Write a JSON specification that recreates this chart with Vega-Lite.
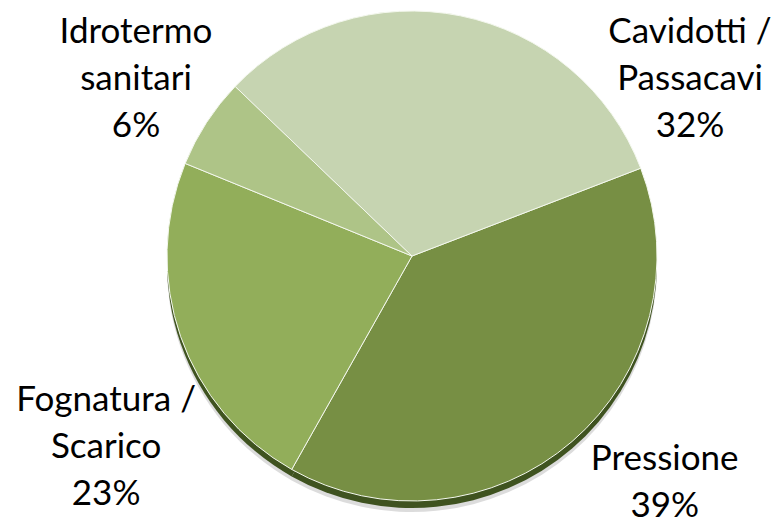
{
  "$schema": "https://vega.github.io/schema/vega-lite/v6.json",
  "width": 728,
  "height": 512,
  "autosize": {"type": "none"},
  "padding": {"left": 48, "right": 0, "top": 0, "bottom": 7},
  "background": "white",
  "config": {"view": {"stroke": null}},
  "data": {
    "values": [
      {"category": "Pressione", "label": "Pressione", "value": 39, "order": 1},
      {"category": "Fognatura / Scarico", "label": "Fognatura /\nScarico", "value": 23, "order": 2},
      {"category": "Idrotermo sanitari", "label": "Idrotermo\nsanitari", "value": 6, "order": 3},
      {"category": "Cavidotti / Passacavi", "label": "Cavidotti /\nPassacavi", "value": 32, "order": 4}
    ]
  },
  "transform": [
    {"stack": "value", "groupby": [], "sort": [{"field": "order"}], "as": ["s0", "s1"]},
    {"calculate": "datum.label + '\\n' + datum.value + '%'", "as": "text"}
  ],
  "layer": [
    {
      "mark": {"type": "arc", "radius": 245, "yOffset": 11, "color": "#9a9a9a", "opacity": 0.35},
      "encoding": {
        "theta": {"field": "s0", "type": "quantitative", "scale": {"domain": [0, 100], "range": [1.2043, 7.4875]}},
        "theta2": {"field": "s1"}
      }
    },
    {
      "mark": {"type": "arc", "radius": 245, "yOffset": 7, "color": "#3f5320"},
      "encoding": {
        "theta": {"field": "s0", "type": "quantitative"},
        "theta2": {"field": "s1"}
      }
    },
    {
      "mark": {"type": "arc", "radius": 245, "stroke": "#f4f8ee", "strokeWidth": 1},
      "encoding": {
        "theta": {"field": "s0", "type": "quantitative"},
        "theta2": {"field": "s1"},
        "color": {
          "field": "category",
          "type": "nominal",
          "scale": {
            "domain": ["Pressione", "Fognatura / Scarico", "Idrotermo sanitari", "Cavidotti / Passacavi"],
            "range": ["#778f44", "#92ae5a", "#aec487", "#c6d4b1"]
          },
          "legend": null
        }
      }
    },
    {
      "transform": [{"filter": "datum.category == 'Pressione'"}],
      "mark": {"type": "text", "radius": 324, "thetaOffset": 1.0427, "font": "Lato", "fontSize": 35, "lineHeight": 47, "lineBreak": "\n", "align": "center", "baseline": "middle", "color": "black"},
      "encoding": {"theta": {"field": "s0", "type": "quantitative"}, "text": {"field": "text"}}
    },
    {
      "transform": [{"filter": "datum.category == 'Fognatura / Scarico'"}],
      "mark": {"type": "text", "radius": 338, "thetaOffset": 0.618, "font": "Lato", "fontSize": 35, "lineHeight": 47, "lineBreak": "\n", "align": "center", "baseline": "middle", "color": "black"},
      "encoding": {"theta": {"field": "s0", "type": "quantitative"}, "text": {"field": "text"}}
    },
    {
      "transform": [{"filter": "datum.category == 'Idrotermo sanitari'"}],
      "mark": {"type": "text", "radius": 355.5, "thetaOffset": 0.2944, "font": "Lato", "fontSize": 35, "lineHeight": 47, "lineBreak": "\n", "align": "center", "baseline": "middle", "color": "black"},
      "encoding": {"theta": {"field": "s0", "type": "quantitative"}, "text": {"field": "text"}}
    },
    {
      "transform": [{"filter": "datum.category == 'Cavidotti / Passacavi'"}],
      "mark": {"type": "text", "radius": 357, "thetaOffset": 1.699, "font": "Lato", "fontSize": 35, "lineHeight": 47, "lineBreak": "\n", "align": "center", "baseline": "middle", "color": "black"},
      "encoding": {"theta": {"field": "s0", "type": "quantitative"}, "text": {"field": "text"}}
    }
  ]
}
